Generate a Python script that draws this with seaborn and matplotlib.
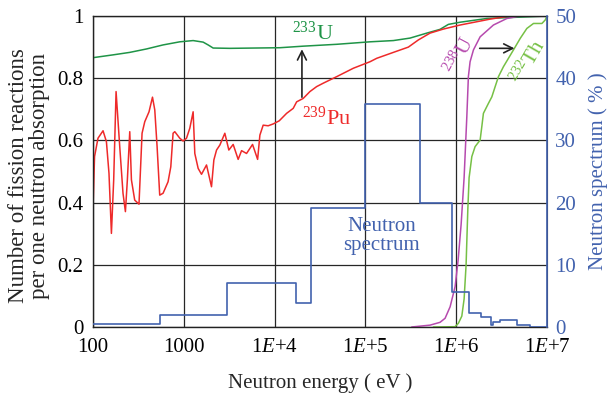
import numpy as np
import pandas as pd
import matplotlib
matplotlib.use("Agg")
import matplotlib.pyplot as plt
from matplotlib.ticker import NullLocator, FixedLocator, FixedFormatter
import seaborn as sns

# ---------------- data ----------------
pu_e = [100, 104, 113.5, 129, 140.5, 150, 159.5, 169, 179.5, 197, 214, 227.5, 239, 254,
        265, 288, 321, 347, 371.5, 414, 452, 479, 508, 543, 591, 671, 719, 762, 796,
        903, 982, 1071, 1164, 1267, 1322, 1439, 1567, 1779, 2019, 2143, 2294, 2495,
        2831, 3133, 3498, 3969, 4327, 4910, 5717, 6500, 6887, 7484, 8493, 9660,
        11250, 13560, 16030, 17490, 20660, 24490, 29040, 34360, 48300, 73620,
        112500, 133300, 203200, 297300, 382800, 515200, 722800, 1.104e6, 2.366e6,
        3.93e6, 1e7]
pu_v = [0.38, 0.548, 0.607, 0.631, 0.596, 0.494, 0.301, 0.473, 0.757, 0.58, 0.43, 0.371,
        0.473, 0.628, 0.473, 0.408, 0.395, 0.623, 0.66, 0.692, 0.739, 0.698, 0.58,
        0.424, 0.43, 0.467, 0.515, 0.623, 0.628, 0.607, 0.598, 0.607, 0.639, 0.692,
        0.558, 0.51, 0.491, 0.521, 0.451, 0.537, 0.569, 0.585, 0.623, 0.569, 0.587,
        0.539, 0.567, 0.558, 0.587, 0.539, 0.617, 0.649, 0.647, 0.653, 0.663, 0.687,
        0.703, 0.724, 0.735, 0.757, 0.773, 0.784, 0.805, 0.832, 0.853, 0.864, 0.883,
        0.9, 0.923, 0.945, 0.958, 0.971, 0.99, 1.0, 1.0]

u233_e = [100, 166, 254, 388, 591, 903, 1267, 1633, 1853, 2104, 3215, 11430, 20660,
          48300, 112500, 203200, 310500, 474300, 663400, 819700, 1.104e6, 2.175e6, 1e7]
u233_v = [0.866, 0.875, 0.883, 0.894, 0.907, 0.917, 0.921, 0.916, 0.907, 0.897, 0.896,
          0.898, 0.903, 0.909, 0.917, 0.921, 0.929, 0.945, 0.957, 0.973, 0.98, 0.992, 1.0]

u238_e = [323600, 515200, 663400, 754400, 857000, 972900, 1.05e6, 1.133e6, 1.222e6,
          1.309e6, 1.362e6, 1.422e6, 1.549e6, 1.834e6, 2.57e6, 3.613e6, 5.07e6, 1e7]
u238_v = [0.0, 0.006, 0.015, 0.028, 0.065, 0.13, 0.215, 0.33, 0.48, 0.676, 0.805, 0.853,
          0.891, 0.933, 0.971, 0.992, 1.0, 1.0]

th232_e = [561000, 972900, 1.057e6, 1.153e6, 1.222e6, 1.285e6, 1.342e6, 1.387e6,
           1.486e6, 1.615e6, 1.834e6, 1.914e6, 1.994e6, 2.264e6, 2.469e6, 2.686e6,
           2.919e6, 3.313e6, 3.763e6, 4.273e6, 5.07e6, 6.0e6, 7.1e6, 8.79e6, 9.55e6, 1e7]
th232_v = [0.0, 0.001, 0.012, 0.035, 0.09, 0.2, 0.376, 0.48, 0.548, 0.58, 0.601, 0.644,
           0.687, 0.719, 0.74, 0.773, 0.805, 0.837, 0.864, 0.891, 0.928, 0.96, 0.976,
           0.976, 0.987, 1.0]

spec_edges = [100, 543, 3000, 17000, 25000, 1e5, 4e5, 9.1e5, 1.4e6, 1.87e6, 2.41e6,
              2.57e6, 3.05e6, 4.73e6, 6.53e6, 1e7]
spec_vals = [0.45, 2.0, 7.0, 3.8, 19.2, 35.8, 20.0, 5.7, 2.2, 1.56, 0.3, 0.8, 1.05,
             0.25, 0.05]

x_ticks = [100, 1e3, 1e4, 1e5, 1e6, 1e7]
x_ticklabels = ["100", "1000", "1$E$+4", "1$E$+5", "1$E$+6", "1$E$+7"]
y_ticks = [0, 0.2, 0.4, 0.6, 0.8, 1.0]
y_ticklabels = ["0", "0.2", "0.4", "0.6", "0.8", "1"]
y2_ticks = [0, 10, 20, 30, 40, 50]

# ---------------- style ----------------
sns.set_style("white")
plt.rcParams['font.family'] = ['Liberation Serif', 'DejaVu Serif']
plt.rcParams['mathtext.fontset'] = 'custom'
plt.rcParams['mathtext.rm'] = 'Liberation Serif'
plt.rcParams['mathtext.it'] = 'Liberation Serif:italic'
plt.rcParams['mathtext.bf'] = 'Liberation Serif:bold'

RED = '#ee2a2a'
GREEN = '#1f9447'
MAGENTA = '#b64aae'
LGREEN = '#76c045'
BLUE = '#4262ae'
FS = 15

fig = plt.figure(figsize=(6.11, 3.93), dpi=100)
ax = fig.add_axes([93 / 611, 66 / 393, 454 / 611, 311 / 393])
ax.set_xscale('log')

df_pu = pd.DataFrame({'E': pu_e, 'v': pu_v})
df_u3 = pd.DataFrame({'E': u233_e, 'v': u233_v})
df_u8 = pd.DataFrame({'E': u238_e, 'v': u238_v})
df_th = pd.DataFrame({'E': th232_e, 'v': th232_v})

sns.lineplot(data=df_u3, x='E', y='v', ax=ax, color=GREEN, lw=1.1, estimator=None, sort=False)
sns.lineplot(data=df_pu, x='E', y='v', ax=ax, color=RED, lw=1.1, estimator=None, sort=False)
sns.lineplot(data=df_u8, x='E', y='v', ax=ax, color=MAGENTA, lw=1.1, estimator=None, sort=False)
sns.lineplot(data=df_th, x='E', y='v', ax=ax, color=LGREEN, lw=1.1, estimator=None, sort=False)
ax.set_xlabel('')
ax.set_ylabel('')

ax2 = ax.twinx()
df_sp = pd.DataFrame({'E': spec_edges, 'p': spec_vals + [spec_vals[-1]]})
sns.lineplot(data=df_sp, x='E', y='p', ax=ax2, color=BLUE, lw=1.2, estimator=None,
             sort=False, drawstyle='steps-post')
ax2.set_ylim(0, 50)
ax2.yaxis.set_major_locator(FixedLocator(y2_ticks))
ax2.tick_params(axis='y', length=0, labelsize=FS, colors=BLUE, pad=6)
ax2.set_ylabel('')
ax2.set_xlabel('')
ax2.spines['right'].set_color(BLUE)
ax2.spines['right'].set_linewidth(1.2)
for s in ['left', 'top', 'bottom']:
    ax2.spines[s].set_visible(False)

# axis formatting of the main axes (after twin so it is not reset)
ax.set_xlim(100, 1e7)
ax.set_ylim(0, 1)
ax.xaxis.set_major_locator(FixedLocator(x_ticks))
ax.xaxis.set_major_formatter(FixedFormatter(x_ticklabels))
ax.xaxis.set_minor_locator(NullLocator())
ax.yaxis.set_major_locator(FixedLocator(y_ticks))
ax.yaxis.set_major_formatter(FixedFormatter(y_ticklabels))
ax.tick_params(axis='both', length=0, labelsize=FS, colors='black')
ax.tick_params(axis='x', pad=8)
ax.tick_params(axis='y', pad=7)
ax.grid(True, color='#262626', lw=0.9)
for s in ['left', 'top', 'bottom']:
    ax.spines[s].set_color('#222222')
    ax.spines[s].set_linewidth(1.0)

# ---------------- annotations ----------------
ax.text(1.54e4, 0.923, r"$^{233}$U", color=GREEN, fontsize=FS + 1, ha='left', va='baseline')
ax.annotate('', xy=(2.0e4, 0.902), xytext=(2.0e4, 0.73),
            arrowprops=dict(arrowstyle='->', color='#222222', lw=1.2, mutation_scale=16))
ax.text(1.98e4, 0.65, r"$^{239}$Pu", color=RED, fontsize=FS + 1, ha='left', va='baseline')
ax.text(1.514e5, 0.2926, "Neutron\nspectrum", color=BLUE, fontsize=FS, ha='center',
        va='center', linespacing=0.95)
ax.text(1.1e6, 0.87, r"$^{238}$U", color=MAGENTA, fontsize=FS, ha='center',
        va='center', rotation=62)
ax.text(6.3e6, 0.85, r"$^{232}$Th", color=LGREEN, fontsize=FS, ha='center',
        va='center', rotation=60)
ax.annotate('', xy=(4.7e6, 0.896), xytext=(1.69e6, 0.896),
            arrowprops=dict(arrowstyle='->', color='#222222', lw=1.2, mutation_scale=16))

fig.text(320 / 611, 10 / 393, "Neutron energy ( eV )", fontsize=FS, ha='center', va='center')
fig.text(29 / 611, 1 - 176 / 393, "Number of fission reactions\nper one neutron absorption",
         fontsize=16.5, ha='center', va='center', rotation=90, linespacing=1.0)
fig.text(598 / 611, 1 - 171 / 393, "Neutron spectrum ( % )", fontsize=FS, ha='center',
         va='center', rotation=90, color=BLUE)

fig.savefig("out.png", dpi=100)
